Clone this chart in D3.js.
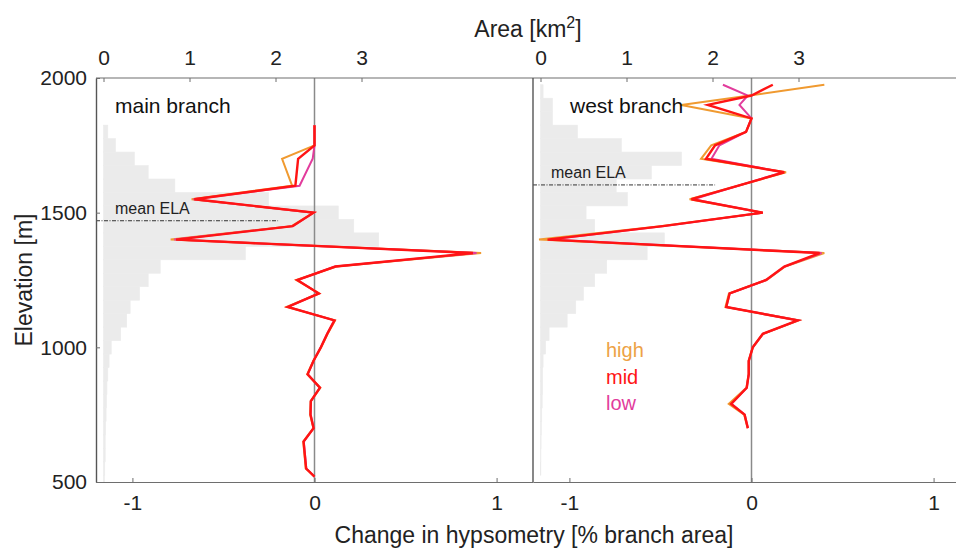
<!DOCTYPE html>
<html>
<head>
<meta charset="utf-8">
<script src="https://cdn.jsdelivr.net/npm/d3@7"></script>
<style>
  body { margin: 0; background: #fff; }
  svg { font-family: "Liberation Sans", Arial, sans-serif; }
</style>
</head>
<body>
<svg width="956" height="548"></svg>
<script>
// hypsometry (area per 50 m band, km2)
const mainBands = [500, 550, 600, 650, 700, 750, 800, 850, 900, 950, 1000, 1050, 1100, 1150, 1200, 1250, 1300, 1350, 1400, 1450, 1500, 1550, 1600, 1650, 1700, 1750, 1800];
const mainArea = [0.01, 0.015, 0.02, 0.02, 0.025, 0.03, 0.035, 0.04, 0.05, 0.065, 0.09, 0.2, 0.27, 0.31, 0.42, 0.52, 0.66, 1.65, 3.2, 2.91, 2.73, 1.92, 0.83, 0.52, 0.36, 0.14, 0.05];
const westBands = [550, 600, 650, 700, 750, 800, 850, 900, 950, 1000, 1050, 1100, 1150, 1200, 1250, 1300, 1350, 1400, 1450, 1500, 1550, 1600, 1650, 1700, 1750, 1800, 1850, 1900, 1950];
const westArea = [0.004, 0.005, 0.007, 0.01, 0.015, 0.02, 0.025, 0.025, 0.03, 0.06, 0.1, 0.31, 0.41, 0.5, 0.63, 0.77, 1.24, 1.44, 0.63, 0.53, 1.01, 0.88, 1.29, 1.64, 0.94, 0.43, 0.14, 0.14, 0.03];

// change in hypsometry [% branch area]
const mainElev = [1825, 1750, 1700, 1600, 1550, 1500, 1450, 1400, 1350, 1300, 1250, 1200, 1150, 1100, 1050, 1000, 950, 900, 850, 800, 750, 700, 650, 550, 520];
const mainHigh = [0, 0, -0.178, -0.123, -0.675, -0.005, -0.125, -0.79, 0.915, 0.12, -0.1, 0.026, -0.152, 0.113, 0.072, 0.036, -0.006, -0.04, 0.032, -0.021, -0.024, -0.006, -0.062, -0.048, 0];
const mainMid = [0, 0, -0.09, -0.105, -0.66, -0.005, -0.12, -0.76, 0.87, 0.115, -0.095, 0.024, -0.147, 0.11, 0.07, 0.035, -0.005, -0.038, 0.03, -0.02, -0.022, -0.005, -0.06, -0.046, 0];
const mainLow = [0, 0, -0.01, -0.082, -0.665, -0.005, -0.118, -0.77, 0.89, 0.112, -0.093, 0.023, -0.145, 0.108, 0.069, 0.034, -0.005, -0.037, 0.029, -0.02, -0.021, -0.005, -0.059, -0.045, 0];

const westElev = [1975, 1935, 1900, 1850, 1800, 1750, 1700, 1650, 1550, 1500, 1450, 1400, 1350, 1300, 1250, 1200, 1150, 1100, 1050, 1000, 950, 900, 850, 790, 750, 700];
const westHigh = [0.4, -0.01, -0.386, 0, -0.03, -0.221, -0.277, 0.19, -0.34, 0.062, -0.5, -1.167, 0.4, 0.185, 0.083, -0.124, -0.143, 0.26, 0.064, 0.007, -0.016, -0.016, -0.028, -0.125, -0.04, -0.021];
const westMid = [0.117, 0, -0.24, 0, -0.03, -0.2, -0.25, 0.18, -0.33, 0.062, -0.487, -1.12, 0.374, 0.18, 0.08, -0.12, -0.139, 0.254, 0.062, 0.007, -0.015, -0.015, -0.026, -0.112, -0.038, -0.02];
const westLow = [-0.157, -0.02, -0.066, 0, -0.03, -0.176, -0.22, 0.175, -0.32, 0.06, -0.48, -1.11, 0.385, 0.182, 0.081, -0.12, -0.138, 0.256, 0.063, 0.007, -0.015, -0.015, -0.026, -0.11, -0.037, -0.02];

const elaMain = 1470, elaWest = 1603;
const yTicks = [500, 1000, 1500, 2000];
const changeTicks = [-1, 0, 1];
const areaTicks = [0, 1, 2, 3];

const svg = d3.select("svg");
const axisCol = "#6e6e6e";
const colors = {high: "#f09a30", mid: "#ff1414", low: "#e23c9c"};

const y = d3.scaleLinear().domain([500, 2000]).range([482, 78]);
const panels = [
  {name: "main branch", left: 96, bands: mainBands, area: mainArea, elev: mainElev,
   high: mainHigh, mid: mainMid, low: mainLow, ela: elaMain, labelX: 115, elaX: 115},
  {name: "west branch", left: 533, bands: westBands, area: westArea, elev: westElev,
   high: westHigh, mid: westMid, low: westLow, ela: elaWest, labelX: 570, elaX: 551}
];

panels.forEach(p => {
  const x = d3.scaleLinear().domain([-1.2, 1.2]).range([p.left, p.left + 437]);
  const a = d3.scaleLinear().domain([0, 3]).range([p.left + 7.5, p.left + 265.5]);
  const g = svg.append("g");

  // hypsometry bars
  g.selectAll("rect.h").data(p.bands).enter().append("rect")
    .attr("x", a(0))
    .attr("y", d => y(Math.min(d + 25, 2000)))
    .attr("height", d => y(Math.max(d - 25, 500)) - y(Math.min(d + 25, 2000)))
    .attr("width", (d, i) => a(p.area[i]) - a(0))
    .attr("fill", "#ebebeb").attr("stroke", "#ebebeb").attr("stroke-width", 0.6);

  // zero line
  g.append("line").attr("x1", x(0)).attr("x2", x(0)).attr("y1", y(500)).attr("y2", y(2000))
    .attr("stroke", "#8a8a8a").attr("stroke-width", 1.5);

  // mean ELA
  g.append("line").attr("x1", p.left).attr("x2", x(-0.2)).attr("y1", y(p.ela)).attr("y2", y(p.ela))
    .attr("stroke", "#333").attr("stroke-width", 1).attr("stroke-dasharray", "4,1.5,1,1.5");
  g.append("text").attr("x", p.elaX).attr("y", y(p.ela) - 7).text("mean ELA")
    .style("font-size", "16px").attr("fill", "#222");

  // scenario lines
  const line = vals => d3.line().x((d, i) => x(vals[i])).y(d => y(d));
  ["high", "low", "mid"].forEach(k => {
    g.append("path").datum(p.elev).attr("d", line(p[k]))
      .attr("fill", "none").attr("stroke", colors[k])
      .attr("stroke-width", k == "mid" ? 2.4 : 2).attr("stroke-linejoin", "miter");
  });

  // axes
  const bottom = g.append("g").attr("transform", "translate(0,482)")
    .call(d3.axisBottom(x).tickValues(changeTicks).tickSize(-4).tickSizeOuter(0).tickPadding(13)
      .tickFormat(d => d < 0 ? "-" + Math.abs(d) : d));
  const top = g.append("g").attr("transform", "translate(0,78)")
    .call(d3.axisTop(a).tickValues(areaTicks).tickSize(-4).tickPadding(13).tickFormat(d3.format("d")));
  top.select(".domain").remove();
  [bottom, top].forEach(ax => {
    ax.selectAll("line").attr("stroke", axisCol);
    ax.select(".domain").attr("stroke", axisCol);
    ax.selectAll("text").style("font-size", "21px").attr("fill", "#222").attr("font-family", null);
  });

  g.append("text").attr("x", p.labelX).attr("y", 113).text(p.name)
    .style("font-size", "21px").attr("fill", "#111");
});

// frame lines
svg.append("line").attr("x1", 96).attr("x2", 956).attr("y1", 78).attr("y2", 78).attr("stroke", axisCol).attr("stroke-width", 1.2);
svg.append("line").attr("x1", 533).attr("x2", 533).attr("y1", 78).attr("y2", 482).attr("stroke", "#555").attr("stroke-width", 1.4);

const yAxis = svg.append("g").attr("transform", "translate(96,0)")
  .call(d3.axisLeft(y).tickValues(yTicks).tickSize(-4).tickSizeOuter(0).tickPadding(9).tickFormat(d3.format("d")));
yAxis.selectAll("line").attr("stroke", axisCol);
yAxis.select(".domain").attr("stroke", "#555").attr("stroke-width", 1.4);
yAxis.selectAll("text").style("font-size", "21px").attr("fill", "#222").attr("font-family", null);

// axis titles
svg.append("text").attr("transform", "translate(32,280) rotate(-90)").attr("text-anchor", "middle")
  .style("font-size", "23px").attr("fill", "#222").text("Elevation [m]");
svg.append("text").attr("x", 534).attr("y", 543).attr("text-anchor", "middle")
  .style("font-size", "23px").attr("fill", "#222").text("Change in hypsometry [% branch area]");
const areaTitle = svg.append("text").attr("x", 528).attr("y", 37).attr("text-anchor", "middle")
  .style("font-size", "23px").attr("fill", "#222");
areaTitle.append("tspan").text("Area [km");
areaTitle.append("tspan").attr("dy", -9).style("font-size", "16px").text("2");
areaTitle.append("tspan").attr("dy", 9).text("]");

// legend
const legend = [{k: "high", c: "#eda246"}, {k: "mid", c: colors.mid}, {k: "low", c: colors.low}];
svg.selectAll("text.leg").data(legend).enter().append("text")
  .attr("x", 606).attr("y", (d, i) => 357 + i * 26.5)
  .style("font-size", "20px").attr("fill", d => d.c).text(d => d.k);
</script>
</body>
</html>
